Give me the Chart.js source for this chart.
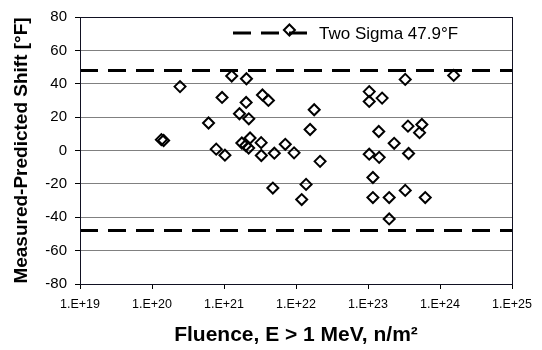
<!DOCTYPE html>
<html>
<head>
<meta charset="utf-8">
<script src="https://cdn.jsdelivr.net/npm/chart.js@4/dist/chart.umd.min.js"></script>
<style>
  html, body { margin: 0; padding: 0; background: #fff; }
  #wrap { width: 542px; height: 350px; }
</style>
</head>
<body>
<div id="wrap"><canvas id="chart"></canvas></div>
<script>
// fluence E > 1 MeV (n/m²) and measured - predicted shift (°F)
const fluence = [
  1.35e20, 1.45e20, 2.45e20, 6.1e20, 7.8e20, 9.4e20, 1.03e21, 1.28e21, 1.64e21, 1.77e21,
  2.0e21, 2.03e21, 2.05e21, 2.2e21, 2.21e21, 2.3e21, 3.28e21, 3.3e21, 3.42e21, 4.14e21,
  4.77e21, 5.0e21, 7.1e21, 8.1e21, 9.4e21, 1.2e22, 1.38e22, 1.57e22, 1.79e22, 2.16e22,
  1.04e23, 1.04e23, 1.04e23, 1.17e23, 1.17e23, 1.41e23, 1.43e23, 1.57e23, 1.97e23, 1.97e23,
  2.31e23, 3.29e23, 3.29e23, 3.59e23, 3.66e23, 5.2e23, 5.6e23, 6.24e23, 1.55e24
];
const shift = [
  6.5, 6.0, 38.3, 16.5, 0.8, 31.8, -2.8, 44.6, 22.0, 4.5,
  3.0, 28.8, 43.0, 1.5, 19.0, 7.5, 4.7, -3.0, 33.3, 30.0,
  -22.5, -1.6, 3.7, 72.2, -1.4, -29.4, -20.3, 12.6, 24.4, -6.5,
  35.3, 29.4, -2.2, -16.2, -28.2, 11.4, -4.1, 31.4, -28.2, -41.0,
  4.3, 42.6, -23.9, 14.6, -1.8, 10.7, 15.6, -28.2, 45.0
];
const twoSigma = 47.9;
const sigmaLabel = 'Two Sigma 47.9°F';
const xTicks = [1e19, 1e20, 1e21, 1e22, 1e23, 1e24, 1e25];

const points = fluence.map((f, i) => ({ x: f, y: shift[i] }));
const xMin = xTicks[0], xMax = xTicks[xTicks.length - 1];

// rahmen um die plotfläche + legende innerhalb des plots
const frameAndKey = {
  id: 'frameAndKey',
  beforeDatasetsDraw(chart) {
    const ds = chart.data.datasets[1];
    const ctx = chart.ctx;
    ctx.save();
    ctx.strokeStyle = ds.borderColor;
    ctx.lineWidth = ds.borderWidth;
    ctx.setLineDash(ds.borderDash);
    ctx.beginPath();
    ctx.moveTo(233, 33);
    ctx.lineTo(312, 33);
    ctx.stroke();
    ctx.setLineDash([]);
    ctx.fillStyle = '#000';
    ctx.font = '17px "Liberation Sans", Arial, sans-serif';
    ctx.textBaseline = 'middle';
    ctx.fillText(ds.label, 319, 34);
    ctx.restore();
  },
  afterDraw(chart) {
    const a = chart.chartArea;
    const ctx = chart.ctx;
    ctx.save();
    ctx.strokeStyle = '#111122';
    ctx.lineWidth = 1;
    ctx.strokeRect(Math.round(a.left) + 0.5, Math.round(a.top) + 0.5,
      Math.round(a.right - a.left), Math.round(a.bottom - a.top));
    ctx.restore();
  }
};

new Chart(document.getElementById('chart'), {
  type: 'scatter',
  data: {
    datasets: [
      {
        label: 'Data',
        data: points,
        pointStyle: 'rectRot',
        pointRadius: 5.5,
        pointBorderWidth: 2,
        pointBorderColor: '#000',
        pointBackgroundColor: 'rgba(0,0,0,0)',
        order: 0
      },
      {
        type: 'line',
        label: sigmaLabel,
        data: [{ x: xMin, y: twoSigma }, { x: xMax, y: twoSigma }],
        borderColor: '#000',
        borderWidth: 3,
        borderDash: [18, 10],
        pointRadius: 0,
        order: 1
      },
      {
        type: 'line',
        label: '-' + sigmaLabel,
        data: [{ x: xMin, y: -twoSigma }, { x: xMax, y: -twoSigma }],
        borderColor: '#000',
        borderWidth: 3,
        borderDash: [18, 10],
        pointRadius: 0,
        order: 1
      }
    ]
  },
  options: {
    responsive: true,
    maintainAspectRatio: false,
    animation: false,
    devicePixelRatio: 1,
    layout: { padding: { left: 0, right: 30, top: 10, bottom: 0 } },
    plugins: {
      legend: { display: false },
      tooltip: { enabled: false }
    },
    scales: {
      x: {
        type: 'logarithmic',
        min: xMin,
        max: xMax,
        afterBuildTicks: (scale) => { scale.ticks = xTicks.map(v => ({ value: v })); },
        afterFit: (scale) => { scale.height = 66; },
        grid: { display: true, drawOnChartArea: false, drawTicks: true, tickLength: 5, tickColor: '#000' },
        border: { display: true, color: '#000' },
        ticks: {
          color: '#000',
          padding: 8,
          maxRotation: 0,
          autoSkip: false,
          font: { family: '"Liberation Sans", Arial, sans-serif', size: 12.5 },
          callback: (v) => '1.E+' + Math.round(Math.log10(v))
        },
        title: {
          display: true,
          text: 'Fluence, E > 1 MeV, n/m²',
          color: '#000',
          padding: { top: 0, bottom: 2 },
          font: { family: '"Liberation Sans", Arial, sans-serif', size: 21, weight: 'bold' }
        }
      },
      y: {
        min: -80,
        max: 80,
        afterFit: (scale) => { scale.width = 80; },
        grid: { color: '#808080', lineWidth: 1, drawTicks: true, tickLength: 5, tickColor: '#000' },
        border: { display: true, color: '#000' },
        ticks: {
          stepSize: 20,
          color: '#000',
          padding: 8,
          font: { family: '"Liberation Sans", Arial, sans-serif', size: 15 }
        },
        title: {
          display: true,
          text: 'Measured-Predicted Shift [°F]',
          color: '#000',
          padding: { top: 10, bottom: 0 },
          font: { family: '"Liberation Sans", Arial, sans-serif', size: 19, weight: 'bold' }
        }
      }
    }
  },
  plugins: [frameAndKey]
});
</script>
</body>
</html>
